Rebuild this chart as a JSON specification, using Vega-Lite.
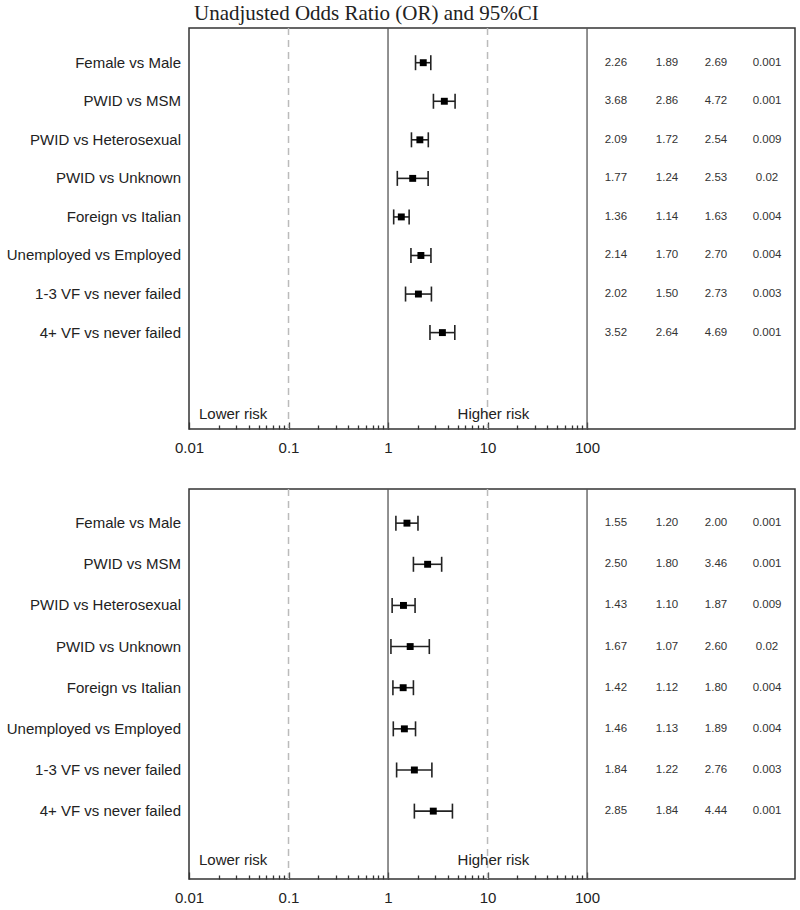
{
  "$schema": "https://vega.github.io/schema/vega-lite/v6.json",
  "background": "white",
  "padding": {"left": 5, "top": 2, "right": 2, "bottom": 2},
  "config": {"view": {"stroke": "#333", "strokeWidth": 1.5}, "font": "Liberation Sans"},
  "datasets": {
    "unadj": [
      {"label": "Female vs Male", "row": 1, "or": 2.26, "lo": 1.89, "hi": 2.69, "p": "0.001"},
      {"label": "PWID vs MSM", "row": 2, "or": 3.68, "lo": 2.86, "hi": 4.72, "p": "0.001"},
      {"label": "PWID vs Heterosexual", "row": 3, "or": 2.09, "lo": 1.72, "hi": 2.54, "p": "0.009"},
      {"label": "PWID vs Unknown", "row": 4, "or": 1.77, "lo": 1.24, "hi": 2.53, "p": "0.02"},
      {"label": "Foreign vs Italian", "row": 5, "or": 1.36, "lo": 1.14, "hi": 1.63, "p": "0.004"},
      {"label": "Unemployed vs Employed", "row": 6, "or": 2.14, "lo": 1.70, "hi": 2.70, "p": "0.004"},
      {"label": "1-3 VF vs never failed", "row": 7, "or": 2.02, "lo": 1.50, "hi": 2.73, "p": "0.003"},
      {"label": "4+ VF vs never failed", "row": 8, "or": 3.52, "lo": 2.64, "hi": 4.69, "p": "0.001"}
    ],
    "adj": [
      {"label": "Female vs Male", "row": 1, "or": 1.55, "lo": 1.20, "hi": 2.00, "p": "0.001"},
      {"label": "PWID vs MSM", "row": 2, "or": 2.50, "lo": 1.80, "hi": 3.46, "p": "0.001"},
      {"label": "PWID vs Heterosexual", "row": 3, "or": 1.43, "lo": 1.10, "hi": 1.87, "p": "0.009"},
      {"label": "PWID vs Unknown", "row": 4, "or": 1.67, "lo": 1.07, "hi": 2.60, "p": "0.02"},
      {"label": "Foreign vs Italian", "row": 5, "or": 1.42, "lo": 1.12, "hi": 1.80, "p": "0.004"},
      {"label": "Unemployed vs Employed", "row": 6, "or": 1.46, "lo": 1.13, "hi": 1.89, "p": "0.004"},
      {"label": "1-3 VF vs never failed", "row": 7, "or": 1.84, "lo": 1.22, "hi": 2.76, "p": "0.003"},
      {"label": "4+ VF vs never failed", "row": 8, "or": 2.85, "lo": 1.84, "hi": 4.44, "p": "0.001"}
    ],
    "refs": [
      {"v": 0.1, "kind": "dashed"},
      {"v": 1, "kind": "solid"},
      {"v": 10, "kind": "dashed"},
      {"v": 100, "kind": "solid"}
    ],
    "risk": [
      {"panel": "top", "text": "Lower risk", "v": 0.0126, "row": 10.1},
      {"panel": "top", "text": "Higher risk", "v": 5.0, "row": 10.1},
      {"panel": "bottom", "text": "Lower risk", "v": 0.0126, "row": 9.2},
      {"panel": "bottom", "text": "Higher risk", "v": 5.0, "row": 9.2}
    ]
  },
  "resolve": {"scale": {"x": "independent", "y": "independent"}},
  "spacing": 28,
  "vconcat": [
    {
      "width": 606,
      "height": 401,
      "title": {"text": "Unadjusted Odds Ratio (OR) and 95%CI", "font": "Liberation Serif", "fontSize": 21, "fontWeight": "normal", "color": "#222", "anchor": "start", "frame": "group", "dx": 5, "offset": 3},
      "layer": [
        {
          "data": {"name": "refs"},
          "transform": [{"filter": "datum.kind === 'dashed'"}],
          "mark": {"type": "rule", "color": "#bbb", "strokeWidth": 1.5, "strokeDash": [7, 5]},
          "encoding": {
            "x": {"field": "v", "type": "quantitative", "scale": {"type": "log", "domain": [0.01, 12300], "nice": false},
              "axis": {"values": [0.01, 0.02, 0.03, 0.04, 0.05, 0.06, 0.07, 0.08, 0.09, 0.1, 0.2, 0.3, 0.4, 0.5, 0.6, 0.7, 0.8, 0.9, 1, 2, 3, 4, 5, 6, 7, 8, 9, 10, 20, 30, 40, 50, 60, 70, 80, 90, 100],
                "labelExpr": "indexof([0.01, 0.1, 1, 10, 100], datum.value) >= 0 ? datum.label : ''",
                "format": "~g", "title": null, "grid": false, "domain": false,
                "tickSize": {"condition": {"test": "indexof([0.01, 0.1, 1, 10, 100], datum.value) >= 0", "value": -7}, "value": -4},
                "tickColor": "#333", "tickWidth": 1.3, "labelFontSize": 15, "labelColor": "#222", "labelPadding": 18, "labelOverlap": false, "labelFlush": false}}
          }
        },
        {
          "data": {"name": "refs"},
          "transform": [{"filter": "datum.kind === 'solid'"}],
          "mark": {"type": "rule", "color": "#555", "strokeWidth": 1.3},
          "encoding": {
            "x": {"field": "v", "type": "quantitative"}
          }
        },
        {
          "data": {"name": "unadj"},
          "mark": {"type": "rule", "color": "#222", "strokeWidth": 1.6},
          "encoding": {
            "x": {"field": "lo", "type": "quantitative"},
            "x2": {"field": "hi"},
            "y": {"field": "row", "type": "quantitative", "scale": {"domain": [0.1, 10.5], "reverse": true, "nice": false, "zero": false}, "axis": null}
          }
        },
        {
          "data": {"name": "unadj"},
          "mark": {"type": "tick", "orient": "vertical", "color": "#222", "size": 15, "thickness": 1.6, "opacity": 1},
          "encoding": {
            "x": {"field": "lo", "type": "quantitative"},
            "y": {"field": "row", "type": "quantitative"}
          }
        },
        {
          "data": {"name": "unadj"},
          "mark": {"type": "tick", "orient": "vertical", "color": "#222", "size": 15, "thickness": 1.6, "opacity": 1},
          "encoding": {
            "x": {"field": "hi", "type": "quantitative"},
            "y": {"field": "row", "type": "quantitative"}
          }
        },
        {
          "data": {"name": "unadj"},
          "mark": {"type": "square", "color": "#000", "size": 48, "opacity": 1, "filled": true},
          "encoding": {
            "x": {"field": "or", "type": "quantitative"},
            "y": {"field": "row", "type": "quantitative"}
          }
        },
        {
          "data": {"name": "unadj"},
          "mark": {"type": "text", "align": "right", "baseline": "middle", "dx": -8, "fontSize": 15, "color": "#222"},
          "encoding": {
            "x": {"datum": 0.01, "type": "quantitative"},
            "y": {"field": "row", "type": "quantitative"},
            "text": {"field": "label"}
          }
        },
        {
          "data": {"name": "unadj"},
          "mark": {"type": "text", "align": "center", "baseline": "middle", "fontSize": 11.5, "color": "#333"},
          "encoding": {
            "x": {"datum": 195, "type": "quantitative"},
            "y": {"field": "row", "type": "quantitative"},
            "text": {"field": "or", "format": ".2f"}
          }
        },
        {
          "data": {"name": "unadj"},
          "mark": {"type": "text", "align": "center", "baseline": "middle", "fontSize": 11.5, "color": "#333"},
          "encoding": {
            "x": {"datum": 637, "type": "quantitative"},
            "y": {"field": "row", "type": "quantitative"},
            "text": {"field": "lo", "format": ".2f"}
          }
        },
        {
          "data": {"name": "unadj"},
          "mark": {"type": "text", "align": "center", "baseline": "middle", "fontSize": 11.5, "color": "#333"},
          "encoding": {
            "x": {"datum": 1977, "type": "quantitative"},
            "y": {"field": "row", "type": "quantitative"},
            "text": {"field": "hi", "format": ".2f"}
          }
        },
        {
          "data": {"name": "unadj"},
          "mark": {"type": "text", "align": "center", "baseline": "middle", "fontSize": 11.5, "color": "#333"},
          "encoding": {
            "x": {"datum": 6442, "type": "quantitative"},
            "y": {"field": "row", "type": "quantitative"},
            "text": {"field": "p"}
          }
        },
        {
          "data": {"name": "risk"},
          "transform": [{"filter": "datum.panel === 'top'"}],
          "mark": {"type": "text", "align": "left", "baseline": "middle", "fontSize": 15, "color": "#222"},
          "encoding": {
            "x": {"field": "v", "type": "quantitative"},
            "y": {"field": "row", "type": "quantitative"},
            "text": {"field": "text"}
          }
        }
      ]
    },
    {
      "width": 606,
      "height": 390,
      "layer": [
        {
          "data": {"name": "refs"},
          "transform": [{"filter": "datum.kind === 'dashed'"}],
          "mark": {"type": "rule", "color": "#bbb", "strokeWidth": 1.5, "strokeDash": [7, 5]},
          "encoding": {
            "x": {"field": "v", "type": "quantitative", "scale": {"type": "log", "domain": [0.01, 12300], "nice": false},
              "axis": {"values": [0.01, 0.02, 0.03, 0.04, 0.05, 0.06, 0.07, 0.08, 0.09, 0.1, 0.2, 0.3, 0.4, 0.5, 0.6, 0.7, 0.8, 0.9, 1, 2, 3, 4, 5, 6, 7, 8, 9, 10, 20, 30, 40, 50, 60, 70, 80, 90, 100],
                "labelExpr": "indexof([0.01, 0.1, 1, 10, 100], datum.value) >= 0 ? datum.label : ''",
                "format": "~g", "title": null, "grid": false, "domain": false,
                "tickSize": {"condition": {"test": "indexof([0.01, 0.1, 1, 10, 100], datum.value) >= 0", "value": -7}, "value": -4},
                "tickColor": "#333", "tickWidth": 1.3, "labelFontSize": 15, "labelColor": "#222", "labelPadding": 18, "labelOverlap": false, "labelFlush": false}}
          }
        },
        {
          "data": {"name": "refs"},
          "transform": [{"filter": "datum.kind === 'solid'"}],
          "mark": {"type": "rule", "color": "#555", "strokeWidth": 1.3},
          "encoding": {
            "x": {"field": "v", "type": "quantitative"}
          }
        },
        {
          "data": {"name": "adj"},
          "mark": {"type": "rule", "color": "#222", "strokeWidth": 1.6},
          "encoding": {
            "x": {"field": "lo", "type": "quantitative"},
            "x2": {"field": "hi"},
            "y": {"field": "row", "type": "quantitative", "scale": {"domain": [0.17, 9.65], "reverse": true, "nice": false, "zero": false}, "axis": null}
          }
        },
        {
          "data": {"name": "adj"},
          "mark": {"type": "tick", "orient": "vertical", "color": "#222", "size": 15, "thickness": 1.6, "opacity": 1},
          "encoding": {
            "x": {"field": "lo", "type": "quantitative"},
            "y": {"field": "row", "type": "quantitative"}
          }
        },
        {
          "data": {"name": "adj"},
          "mark": {"type": "tick", "orient": "vertical", "color": "#222", "size": 15, "thickness": 1.6, "opacity": 1},
          "encoding": {
            "x": {"field": "hi", "type": "quantitative"},
            "y": {"field": "row", "type": "quantitative"}
          }
        },
        {
          "data": {"name": "adj"},
          "mark": {"type": "square", "color": "#000", "size": 48, "opacity": 1, "filled": true},
          "encoding": {
            "x": {"field": "or", "type": "quantitative"},
            "y": {"field": "row", "type": "quantitative"}
          }
        },
        {
          "data": {"name": "adj"},
          "mark": {"type": "text", "align": "right", "baseline": "middle", "dx": -8, "fontSize": 15, "color": "#222"},
          "encoding": {
            "x": {"datum": 0.01, "type": "quantitative"},
            "y": {"field": "row", "type": "quantitative"},
            "text": {"field": "label"}
          }
        },
        {
          "data": {"name": "adj"},
          "mark": {"type": "text", "align": "center", "baseline": "middle", "fontSize": 11.5, "color": "#333"},
          "encoding": {
            "x": {"datum": 195, "type": "quantitative"},
            "y": {"field": "row", "type": "quantitative"},
            "text": {"field": "or", "format": ".2f"}
          }
        },
        {
          "data": {"name": "adj"},
          "mark": {"type": "text", "align": "center", "baseline": "middle", "fontSize": 11.5, "color": "#333"},
          "encoding": {
            "x": {"datum": 637, "type": "quantitative"},
            "y": {"field": "row", "type": "quantitative"},
            "text": {"field": "lo", "format": ".2f"}
          }
        },
        {
          "data": {"name": "adj"},
          "mark": {"type": "text", "align": "center", "baseline": "middle", "fontSize": 11.5, "color": "#333"},
          "encoding": {
            "x": {"datum": 1977, "type": "quantitative"},
            "y": {"field": "row", "type": "quantitative"},
            "text": {"field": "hi", "format": ".2f"}
          }
        },
        {
          "data": {"name": "adj"},
          "mark": {"type": "text", "align": "center", "baseline": "middle", "fontSize": 11.5, "color": "#333"},
          "encoding": {
            "x": {"datum": 6442, "type": "quantitative"},
            "y": {"field": "row", "type": "quantitative"},
            "text": {"field": "p"}
          }
        },
        {
          "data": {"name": "risk"},
          "transform": [{"filter": "datum.panel === 'bottom'"}],
          "mark": {"type": "text", "align": "left", "baseline": "middle", "fontSize": 15, "color": "#222"},
          "encoding": {
            "x": {"field": "v", "type": "quantitative"},
            "y": {"field": "row", "type": "quantitative"},
            "text": {"field": "text"}
          }
        }
      ]
    }
  ]
}
